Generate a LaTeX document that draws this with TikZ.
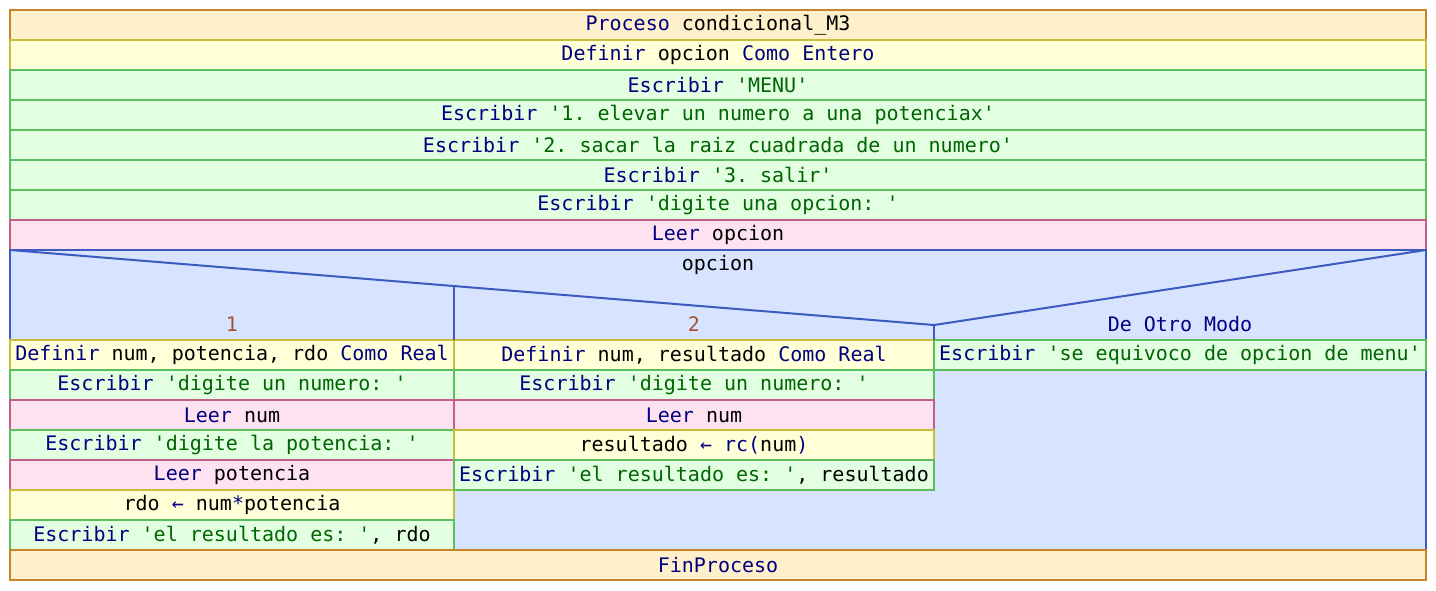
\documentclass[tikz,border=0pt]{standalone}
\usepackage{fontspec}
\setmonofont{DejaVu Sans Mono}
\usepackage{tikz}
\usetikzlibrary{positioning, calc}
\definecolor{kwblue}{HTML}{000080}
\definecolor{strgreen}{HTML}{006400}
\definecolor{numbrown}{HTML}{A0522D}
\definecolor{procfill}{HTML}{FFF0CC}
\definecolor{procdraw}{HTML}{C88428}
\definecolor{deffill}{HTML}{FFFFD8}
\definecolor{defdraw}{HTML}{C8BE3C}
\definecolor{escfill}{HTML}{E2FFE2}
\definecolor{escdraw}{HTML}{5CBE5C}
\definecolor{leerfill}{HTML}{FFE2F0}
\definecolor{leerdraw}{HTML}{C0608A}
\definecolor{segfill}{HTML}{D8E4FF}
\definecolor{segdraw}{HTML}{3C5AC0}
\newcommand{\kw}[1]{\textcolor{kwblue}{#1}}
\newcommand{\cad}[1]{\textcolor{strgreen}{#1}}
\tikzstyle{fila} = [rectangle,
inner sep=0pt, outer sep=0pt,
minimum height=22.5pt,
line width=1.5pt,
font=\ttfamily\fontsize{15}{18}\selectfont]
\tikzstyle{proceso} = [fila, draw=procdraw, fill=procfill, minimum width=1062pt]
\tikzstyle{definir} = [fila, draw=defdraw, fill=deffill]
\tikzstyle{escribir} = [fila, draw=escdraw, fill=escfill]
\tikzstyle{leer} = [fila, draw=leerdraw, fill=leerfill]
\tikzstyle{segun} = [fila, draw=segdraw, fill=segfill]
\tikzstyle{etiqueta} = [inner sep=0pt, font=\ttfamily\fontsize{15}{18}\selectfont]
\tikzstyle{linea} = [segdraw, line width=1.5pt]

\begin{document}
\begin{tikzpicture}[x=0.75pt, y=-0.75pt,
    ancho/.style={minimum width=1062pt},
    col1/.style={minimum width=333pt},
    col2/.style={minimum width=360pt},
    col3/.style={minimum width=369pt}]
    \useasboundingbox (0,0) rectangle (1436,590);

    % cabecera
    \node (inicio) [proceso, anchor=north] at (718,10) {\kw{Proceso} condicional\_M3};
    \node (defop) [definir, ancho, below=0pt of inicio] {\kw{Definir} opcion \kw{Como Entero}};
    \node (menu) [escribir, ancho, below=0pt of defop] {\kw{Escribir} \cad{'MENU'}};
    \node (op1) [escribir, ancho, below=0pt of menu] {\kw{Escribir} \cad{'1. elevar un numero a una potenciax'}};
    \node (op2) [escribir, ancho, below=0pt of op1] {\kw{Escribir} \cad{'2. sacar la raiz cuadrada de un numero'}};
    \node (op3) [escribir, ancho, below=0pt of op2] {\kw{Escribir} \cad{'3. salir'}};
    \node (pide) [escribir, ancho, below=0pt of op3] {\kw{Escribir} \cad{'digite una opcion: '}};
    \node (leerop) [leer, ancho, below=0pt of pide] {\kw{Leer} opcion};

    % segun
    \node (caso) [segun, ancho, minimum height=225pt, below=0pt of leerop] {};
    \coordinate (c1) at (454,286);
    \coordinate (c2) at (934,325);
    \draw [linea] (caso.north west) -- (c2) -- (caso.north east);
    \node (opcion) [etiqueta] at (718,265) {opcion};
    \node (caso1) [etiqueta, text=numbrown] at (232,324) {1};
    \node (caso2) [etiqueta, text=numbrown] at (694,324) {2};
    \node (otro) [etiqueta] at (1180,324) {\kw{De Otro Modo}};

    % caso 1
    \node (def1) [definir, col1, anchor=north] at (232,340) {\kw{Definir} num, potencia, rdo \kw{Como Real}};
    \node (esc1) [escribir, col1, below=0pt of def1] {\kw{Escribir} \cad{'digite un numero: '}};
    \node (leer1) [leer, col1, below=0pt of esc1] {\kw{Leer} num};
    \node (esc2) [escribir, col1, below=0pt of leer1] {\kw{Escribir} \cad{'digite la potencia: '}};
    \node (leer2) [leer, col1, below=0pt of esc2] {\kw{Leer} potencia};
    \node (asig1) [definir, col1, below=0pt of leer2] {rdo \kw{←} num\kw{*}potencia};
    \node (esc3) [escribir, col1, below=0pt of asig1] {\kw{Escribir} \cad{'el resultado es: '}, rdo};

    % caso 2
    \node (def2) [definir, col2, anchor=north] at (694,340) {\kw{Definir} num, resultado \kw{Como Real}};
    \node (esc4) [escribir, col2, below=0pt of def2] {\kw{Escribir} \cad{'digite un numero: '}};
    \node (leer3) [leer, col2, below=0pt of esc4] {\kw{Leer} num};
    \node (asig2) [definir, col2, below=0pt of leer3] {resultado \kw{←} \kw{rc(}num\kw{)}};
    \node (esc5) [escribir, col2, below=0pt of asig2] {\kw{Escribir} \cad{'el resultado es: '}, resultado};

    % de otro modo
    \node (esc6) [escribir, col3, anchor=north] at (1180,340) {\kw{Escribir} \cad{'se equivoco de opcion de menu'}};

    \draw [linea] (c1) -- (c1 |- def1.north);
    \draw [linea] (c2) -- (c2 |- esc6.north);

    \node (fin) [proceso, below=0pt of caso] {\kw{FinProceso}};
\end{tikzpicture}
\end{document}
